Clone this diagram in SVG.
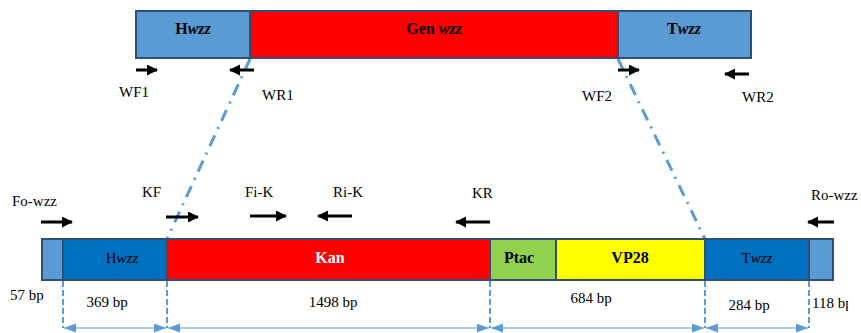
<svg xmlns="http://www.w3.org/2000/svg" width="861" height="333" viewBox="0 0 861 333">
<defs>
<style>
.t{font-family:"Liberation Serif","Times New Roman",serif;font-size:15px;fill:#000}
.b{font-weight:bold}
.big{font-size:16px}
.c{text-anchor:middle}
.box{stroke:#2F5072;stroke-width:2}
.primer{stroke:#000;stroke-width:3;fill:none;marker-end:url(#pa)}
.dash{stroke:#5B9BD5;stroke-width:2;stroke-dasharray:6 3;fill:none}
.dim{stroke:#5B9BD5;stroke-width:1.2;fill:none;marker-start:url(#da);marker-end:url(#da)}
.link{stroke:#5B9BD5;stroke-width:3;stroke-dasharray:12 7 2 7;fill:none}
</style>
<marker id="pa" markerUnits="userSpaceOnUse" markerWidth="12" markerHeight="12" refX="10" refY="5.5" orient="auto">
<path d="M0,0 L11,5.5 L0,11 Z" fill="#000"/>
</marker>
<marker id="da" markerUnits="userSpaceOnUse" markerWidth="14" markerHeight="10" refX="12" refY="4.5" orient="auto-start-reverse">
<path d="M0,0 L12,4.5 L0,9 Z" fill="#5B9BD5"/>
</marker>
<clipPath id="clipR"><rect x="0" y="0" width="848" height="333"/></clipPath>
</defs>
<rect width="861" height="333" fill="#fff"/>

<g id="connectors">
<line class="link" x1="250" y1="59" x2="167" y2="239"/>
<line class="link" x1="618" y1="59" x2="705" y2="239"/>
<line class="dash" x1="63" y1="281" x2="63" y2="328"/>
<line class="dash" x1="167" y1="281" x2="167" y2="328"/>
<line class="dash" x1="490" y1="281" x2="490" y2="328"/>
<line class="dash" x1="705" y1="281" x2="705" y2="328"/>
<line class="dash" x1="809" y1="281" x2="809" y2="328"/>
<line class="dim" x1="64" y1="328" x2="166" y2="328"/>
<line class="dim" x1="168" y1="328" x2="489" y2="328"/>
<line class="dim" x1="491" y1="328" x2="704" y2="328"/>
<line class="dim" x1="706" y1="328" x2="808" y2="328"/>
</g>

<g id="top-bar">
<g id="top-hwzz"><rect class="box" x="136" y="11" width="114" height="47" fill="#5B9BD5"/>
<text class="t b c big" x="193" y="34">H<tspan font-style="italic">wzz</tspan></text></g>
<g id="top-gen"><rect class="box" x="250" y="11" width="368" height="47" fill="#FF0000"/>
<text class="t b c big" x="434" y="34">Gen <tspan font-style="italic">wzz</tspan></text></g>
<g id="top-twzz"><rect class="box" x="618" y="11" width="133" height="47" fill="#5B9BD5"/>
<text class="t b c big" x="684" y="34">T<tspan font-style="italic">wzz</tspan></text></g>
</g>

<g id="top-primers">
<g id="WF1"><line class="primer" x1="136" y1="70" x2="157" y2="70"/><text class="t" x="119" y="97">WF1</text></g>
<g id="WR1"><line class="primer" x1="254" y1="70" x2="230" y2="70"/><text class="t" x="262" y="100">WR1</text></g>
<g id="WF2"><line class="primer" x1="618" y1="70" x2="639" y2="70"/><text class="t" x="582" y="101">WF2</text></g>
<g id="WR2"><line class="primer" x1="749" y1="74" x2="725" y2="74"/><text class="t" x="742" y="102">WR2</text></g>
</g>

<g id="bottom-bar">
<g id="b-left"><rect class="box" x="42" y="239" width="21" height="41" fill="#5B9BD5"/></g>
<g id="b-hwzz"><rect class="box" x="63" y="239" width="104" height="41" fill="#0070C0"/>
<text class="t c" x="122" y="263">H<tspan font-style="italic">wzz</tspan></text></g>
<g id="b-kan"><rect class="box" x="167" y="239" width="323" height="41" fill="#FF0000"/>
<text class="t b c big" x="330" y="263" style="fill:#fff">Kan</text></g>
<g id="b-ptac"><rect class="box" x="490" y="239" width="66" height="41" fill="#92D050"/>
<text class="t b c big" x="519" y="263">Ptac</text></g>
<g id="b-vp28"><rect class="box" x="556" y="239" width="149" height="41" fill="#FFFF00"/>
<text class="t b c big" x="630" y="263">VP28</text></g>
<g id="b-twzz"><rect class="box" x="705" y="239" width="104" height="41" fill="#0070C0"/>
<text class="t c" x="757" y="263">T<tspan font-style="italic">wzz</tspan></text></g>
<g id="b-right"><rect class="box" x="809" y="239" width="24" height="41" fill="#5B9BD5"/></g>
</g>

<g id="bottom-primers">
<g id="Fo-wzz"><line class="primer" x1="41" y1="222" x2="72" y2="222"/><text class="t" x="12" y="206">Fo-wzz</text></g>
<g id="KF"><line class="primer" x1="166" y1="217" x2="198" y2="217"/><text class="t" x="142" y="197">KF</text></g>
<g id="Fi-K"><line class="primer" x1="250" y1="216" x2="286" y2="216"/><text class="t" x="245" y="197">Fi-K</text></g>
<g id="Ri-K"><line class="primer" x1="352" y1="216" x2="318" y2="216"/><text class="t" x="333" y="197">Ri-K</text></g>
<g id="KR"><line class="primer" x1="490" y1="222" x2="456" y2="222"/><text class="t" x="472" y="198">KR</text></g>
<g id="Ro-wzz"><line class="primer" x1="834" y1="222" x2="808" y2="222"/><text class="t" x="811" y="200">Ro-wzz</text></g>
</g>

<g id="sizes">
<text class="t" x="10" y="300">57 bp</text>
<text class="t c" x="107" y="307">369 bp</text>
<text class="t c" x="333" y="307">1498 bp</text>
<text class="t c" x="591" y="303">684 bp</text>
<text class="t c" x="749" y="310">284 bp</text>
<text class="t" x="812" y="308" clip-path="url(#clipR)">118 bp</text>
</g>
</svg>
